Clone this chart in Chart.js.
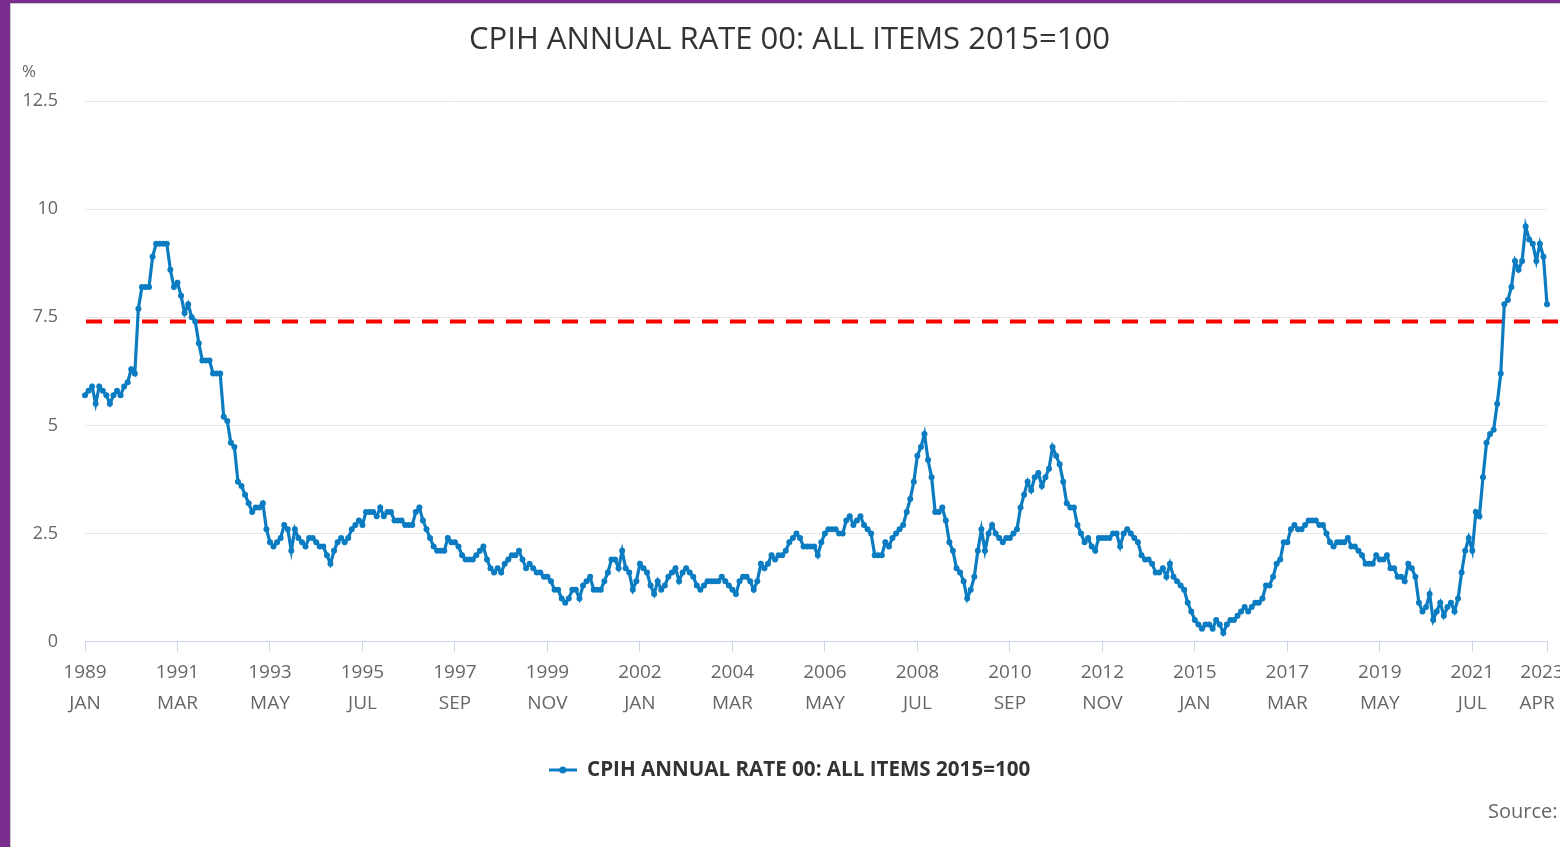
<!DOCTYPE html>
<html>
<head>
<meta charset="utf-8">
<script src="https://cdn.jsdelivr.net/npm/chart.js@4.4.1/dist/chart.umd.min.js"></script>
<style>
  html, body { margin: 0; padding: 0; background: #ffffff; overflow: hidden; }
  #frame { position: absolute; left: 0; top: 0; width: 1560px; height: 847px; box-sizing: border-box;
           border-left: 10px solid #7a2c8c; border-top: 3px solid #7a2c8c; box-shadow: inset 1px 1px 0 #c8c8c8; }
  #c { position: absolute; left: 0; top: 0; width: 1560px; height: 847px; }
</style>
</head>
<body>
<div id="frame"></div>
<canvas id="c" width="1560" height="847"></canvas>
<script>
// ---------- DATA (annual rate, %, monthly Jan 1989 – Apr 2023) ----------
const seriesName = 'CPIH ANNUAL RATE 00: ALL ITEMS 2015=100';
const chartTitle = 'CPIH ANNUAL RATE 00: ALL ITEMS 2015=100';
const unitLabel = '%';
const sourceLabel = 'Source:';
const startYear = 1989;
const monthNames = ['JAN','FEB','MAR','APR','MAY','JUN','JUL','AUG','SEP','OCT','NOV','DEC'];

const r1989 = [5.7, 5.8, 5.9, 5.5, 5.9, 5.8, 5.7, 5.5, 5.7, 5.8, 5.7, 5.9];
const r1990 = [6.0, 6.3, 6.2, 7.7, 8.2, 8.2, 8.2, 8.9, 9.2, 9.2, 9.2, 9.2];
const r1991 = [8.6, 8.2, 8.3, 8.0, 7.6, 7.8, 7.5, 7.4, 6.9, 6.5, 6.5, 6.5];
const r1992 = [6.2, 6.2, 6.2, 5.2, 5.1, 4.6, 4.5, 3.7, 3.6, 3.4, 3.2, 3.0];
const r1993 = [3.1, 3.1, 3.2, 2.6, 2.3, 2.2, 2.3, 2.4, 2.7, 2.6, 2.1, 2.6];
const r1994 = [2.4, 2.3, 2.2, 2.4, 2.4, 2.3, 2.2, 2.2, 2.0, 1.8, 2.1, 2.3];
const r1995 = [2.4, 2.3, 2.4, 2.6, 2.7, 2.8, 2.7, 3.0, 3.0, 3.0, 2.9, 3.1];
const r1996 = [2.9, 3.0, 3.0, 2.8, 2.8, 2.8, 2.7, 2.7, 2.7, 3.0, 3.1, 2.8];
const r1997 = [2.6, 2.4, 2.2, 2.1, 2.1, 2.1, 2.4, 2.3, 2.3, 2.2, 2.0, 1.9];
const r1998 = [1.9, 1.9, 2.0, 2.1, 2.2, 1.9, 1.7, 1.6, 1.7, 1.6, 1.8, 1.9];
const r1999 = [2.0, 2.0, 2.1, 1.9, 1.7, 1.8, 1.7, 1.6, 1.6, 1.5, 1.5, 1.4];
const r2000 = [1.2, 1.2, 1.0, 0.9, 1.0, 1.2, 1.2, 1.0, 1.3, 1.4, 1.5, 1.2];
const r2001 = [1.2, 1.2, 1.4, 1.6, 1.9, 1.9, 1.7, 2.1, 1.7, 1.6, 1.2, 1.4];
const r2002 = [1.8, 1.7, 1.6, 1.3, 1.1, 1.4, 1.2, 1.3, 1.5, 1.6, 1.7, 1.4];
const r2003 = [1.6, 1.7, 1.6, 1.5, 1.3, 1.2, 1.3, 1.4, 1.4, 1.4, 1.4, 1.5];
const r2004 = [1.4, 1.3, 1.2, 1.1, 1.4, 1.5, 1.5, 1.4, 1.2, 1.4, 1.8, 1.7];
const r2005 = [1.8, 2.0, 1.9, 2.0, 2.0, 2.1, 2.3, 2.4, 2.5, 2.4, 2.2, 2.2];
const r2006 = [2.2, 2.2, 2.0, 2.3, 2.5, 2.6, 2.6, 2.6, 2.5, 2.5, 2.8, 2.9];
const r2007 = [2.7, 2.8, 2.9, 2.7, 2.6, 2.5, 2.0, 2.0, 2.0, 2.3, 2.2, 2.4];
const r2008 = [2.5, 2.6, 2.7, 3.0, 3.3, 3.7, 4.3, 4.5, 4.8, 4.2, 3.8, 3.0];
const r2009 = [3.0, 3.1, 2.8, 2.3, 2.1, 1.7, 1.6, 1.4, 1.0, 1.2, 1.5, 2.1];
const r2010 = [2.6, 2.1, 2.5, 2.7, 2.5, 2.4, 2.3, 2.4, 2.4, 2.5, 2.6, 3.1];
const r2011 = [3.4, 3.7, 3.5, 3.8, 3.9, 3.6, 3.8, 4.0, 4.5, 4.3, 4.1, 3.7];
const r2012 = [3.2, 3.1, 3.1, 2.7, 2.5, 2.3, 2.4, 2.2, 2.1, 2.4, 2.4, 2.4];
const r2013 = [2.4, 2.5, 2.5, 2.2, 2.5, 2.6, 2.5, 2.4, 2.3, 2.0, 1.9, 1.9];
const r2014 = [1.8, 1.6, 1.6, 1.7, 1.5, 1.8, 1.5, 1.4, 1.3, 1.2, 0.9, 0.7];
const r2015 = [0.5, 0.4, 0.3, 0.4, 0.4, 0.3, 0.5, 0.4, 0.2, 0.4, 0.5, 0.5];
const r2016 = [0.6, 0.7, 0.8, 0.7, 0.8, 0.9, 0.9, 1.0, 1.3, 1.3, 1.5, 1.8];
const r2017 = [1.9, 2.3, 2.3, 2.6, 2.7, 2.6, 2.6, 2.7, 2.8, 2.8, 2.8, 2.7];
const r2018 = [2.7, 2.5, 2.3, 2.2, 2.3, 2.3, 2.3, 2.4, 2.2, 2.2, 2.1, 2.0];
const r2019 = [1.8, 1.8, 1.8, 2.0, 1.9, 1.9, 2.0, 1.7, 1.7, 1.5, 1.5, 1.4];
const r2020 = [1.8, 1.7, 1.5, 0.9, 0.7, 0.8, 1.1, 0.5, 0.7, 0.9, 0.6, 0.8];
const r2021 = [0.9, 0.7, 1.0, 1.6, 2.1, 2.4, 2.1, 3.0, 2.9, 3.8, 4.6, 4.8];
const r2022 = [4.9, 5.5, 6.2, 7.8, 7.9, 8.2, 8.8, 8.6, 8.8, 9.6, 9.3, 9.2];
const r2023 = [8.8, 9.2, 8.9, 7.8];

const referenceRate = 7.4;   // red dashed line

// x-axis labels shown (year + month)
const shownTicks = ['1989 JAN','1991 MAR','1993 MAY','1995 JUL','1997 SEP','1999 NOV','2002 JAN','2004 MAR',
                    '2006 MAY','2008 JUL','2010 SEP','2012 NOV','2015 JAN','2017 MAR','2019 MAY','2021 JUL','2023 APR'];

// y-axis
const yMin = 0, yMax = 12.5, yStep = 2.5;

// ---------- build ----------
const values = [].concat(r1989, r1990, r1991, r1992, r1993, r1994, r1995, r1996, r1997, r1998, r1999,
  r2000, r2001, r2002, r2003, r2004, r2005, r2006, r2007, r2008, r2009, r2010, r2011, r2012, r2013,
  r2014, r2015, r2016, r2017, r2018, r2019, r2020, r2021, r2022, r2023);
const categories = values.map((v, i) => (startYear + Math.floor(i / 12)) + ' ' + monthNames[i % 12]);
const lastIndex = categories.length - 1;

const BLUE = '#0b7cc1';
const FONT = "'Open Sans', 'Noto Sans', sans-serif";

// legend symbol: line with a dot
const legendSym = document.createElement('canvas');
legendSym.width = 28; legendSym.height = 10;
(function () {
  const g = legendSym.getContext('2d');
  g.strokeStyle = BLUE; g.lineWidth = 3;
  g.beginPath(); g.moveTo(0, 5); g.lineTo(28, 5); g.stroke();
  g.fillStyle = BLUE; g.beginPath(); g.arc(14, 5, 3.5, 0, Math.PI * 2); g.fill();
})();

const refLinePlugin = {
  id: 'refLine',
  beforeDatasetsDraw(chart) {
    const { ctx, chartArea, scales } = chart;
    const y = scales.y.getPixelForValue(referenceRate);
    ctx.save();
    ctx.strokeStyle = '#ff0000';
    ctx.lineWidth = 4;
    ctx.setLineDash([16, 12]);
    ctx.beginPath();
    ctx.moveTo(chartArea.left + 1, y);
    ctx.lineTo(chart.width, y);
    ctx.stroke();
    ctx.restore();
  }
};

// nudge title and legend boxes so they centre like the reference
const centerShiftPlugin = {
  id: 'centerShift',
  afterLayout(chart) {
    if (chart.titleBlock) chart.titleBlock.left += 12;
    if (chart.legend) chart.legend.left += 12;
  }
};

const extraTextPlugin = {
  id: 'extraText',
  afterDraw(chart) {
    const { ctx } = chart;
    ctx.save();
    ctx.textBaseline = 'middle';
    ctx.textAlign = 'left';
    ctx.fillStyle = '#666666';
    ctx.font = "17px " + FONT;
    ctx.fillText(unitLabel, 22, 72);
    ctx.font = "20px " + FONT;
    ctx.fillText(sourceLabel, 1488, 812);
    ctx.restore();
  }
};

new Chart(document.getElementById('c'), {
  type: 'line',
  data: {
    labels: categories,
    datasets: [{
      label: seriesName,
      data: values,
      borderColor: BLUE,
      backgroundColor: BLUE,
      borderWidth: 3.2,
      pointRadius: 3,
      pointBorderWidth: 0,
      pointBackgroundColor: BLUE,
      tension: 0
    }]
  },
  options: {
    responsive: false,
    animation: false,
    devicePixelRatio: 1,
    layout: { padding: { left: 20, right: 13, top: 0, bottom: 56.7 } },
    plugins: {
      title: {
        display: true, text: chartTitle, color: '#333333',
        font: { family: FONT, size: 31, weight: 'normal', lineHeight: 1.2 },
        padding: { top: 21.4, bottom: 42.4 }
      },
      legend: {
        position: 'bottom',
        labels: {
          usePointStyle: true, pointStyle: legendSym, pointStyleWidth: 28,
          color: '#333333', padding: 10,
          font: { family: FONT, size: 20.6, weight: 'bold' }
        }
      },
      tooltip: { enabled: false }
    },
    scales: {
      x: {
        type: 'category',
        offset: false,
        grid: {
          display: true, drawOnChartArea: false, drawTicks: true, tickLength: 10, lineWidth: 1,
          tickColor: (c) => (c.tick && shownTicks.includes(categories[c.index])) ? '#ccd6eb' : 'rgba(0,0,0,0)'
        },
        border: { display: true, color: '#ccd6eb', width: 1 },
        ticks: {
          autoSkip: false, maxRotation: 0, minRotation: 0, padding: 5.5, color: '#666666',
          font: { family: FONT, size: 19, lineHeight: 31 / 19 },
          callback(value, index) {
            const lab = categories[index];
            if (!shownTicks.includes(lab)) return '';
            const parts = lab.split(' ');
            if (index === lastIndex) return [parts[0] + '\u00a0\u00a0', parts[1] + '\u00a0\u00a0\u00a0\u00a0'];
            return parts;
          }
        },
        afterFit(s) { s.height = 108; s.paddingRight = 0; s.paddingLeft = 0; }
      },
      y: {
        min: yMin, max: yMax,
        grid: {
          drawTicks: false, lineWidth: 1,
          color: (c) => (c.tick && c.tick.value === 0) ? 'rgba(0,0,0,0)' : '#e6e6e6'
        },
        border: { display: false },
        ticks: {
          stepSize: yStep, padding: 27, color: '#666666', labelOffset: 0,
          font: { family: FONT, size: 18 }
        },
        afterFit(s) { s.width = 65; }
      }
    }
  },
  plugins: [refLinePlugin, centerShiftPlugin, extraTextPlugin]
});
</script>
</body>
</html>
